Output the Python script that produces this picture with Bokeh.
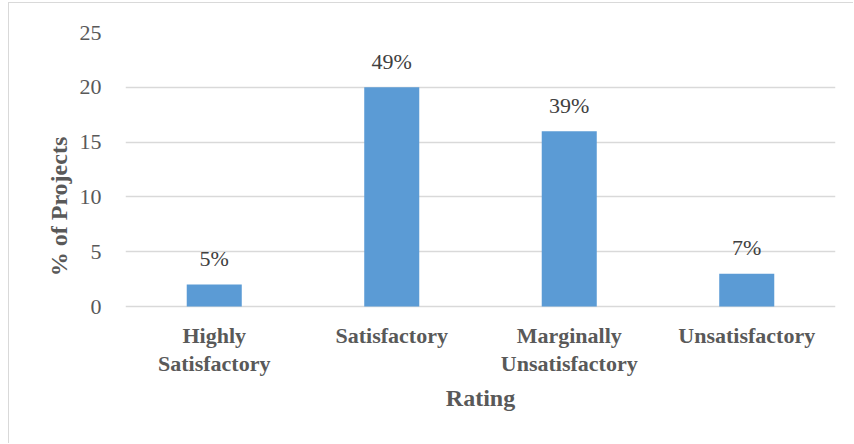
from bokeh.plotting import figure
from bokeh.models import FactorRange, Range1d, ColumnDataSource, Title
from bokeh.core.properties import value
from bokeh.embed import file_html
from bokeh.resources import INLINE

categories = ["Highly Satisfactory", "Satisfactory", "Marginally Unsatisfactory", "Unsatisfactory"]
tick_labels = ["Highly\nSatisfactory", "Satisfactory", "Marginally\nUnsatisfactory", "Unsatisfactory"]
values = [2, 20, 16, 3]
pct_labels = ["5%", "49%", "39%", "7%"]
y_ticks = [0, 5, 10, 15, 20, 25]

FONT = "Liberation Serif"
GRAY = "#595959"

src = ColumnDataSource(dict(cat=categories, val=values, lab=pct_labels,
                            tick=tick_labels, zero=[0] * len(categories)))

# frame extends below zero to make room for the two-line category labels
p = figure(width=845, height=441, x_range=FactorRange(*categories, range_padding=0),
           y_range=Range1d(-6.75, 25), output_backend="svg", toolbar_location=None,
           min_border_left=116, min_border_right=19, min_border_top=29, min_border_bottom=64)
p.styles = {"margin-left": "8px", "margin-top": "2px",
            "border-left": "1px solid #d9d9d9", "border-top": "1px solid #d9d9d9"}
p.outline_line_color = None
p.background_fill_color = "white"
p.border_fill_color = "white"

p.vbar(x="cat", top="val", width=0.31, source=src, color="#5b9bd5", line_color=None)
p.text(x="cat", y="val", text="lab", source=src, text_align="center", text_baseline="middle",
       y_offset=-26, text_font_size="22px", text_color="#404040", text_font=value(FONT))
p.text(x="cat", y="zero", text="tick", source=src, text_align="center", text_baseline="top",
       y_offset=16, text_font_size="22px", text_font=value(FONT), text_font_style="bold",
       text_color=GRAY, text_line_height=1.15)

p.ygrid.grid_line_color = "#d9d9d9"
p.ygrid.grid_line_width = 1.3
p.xgrid.grid_line_color = None
p.xaxis.visible = False

yax = p.yaxis[0]
yax.ticker = y_ticks
yax.axis_line_color = None
yax.major_tick_line_color = None
yax.minor_tick_line_color = None
yax.major_label_text_font = FONT
yax.major_label_text_font_size = "22px"
yax.major_label_text_color = GRAY
yax.major_label_standoff = 18
yax.axis_label = "% of Projects"
yax.axis_label_text_font = FONT
yax.axis_label_text_font_size = "24px"
yax.axis_label_text_font_style = "bold"
yax.axis_label_text_color = GRAY
yax.axis_label_standoff = 5

p.add_layout(Title(text="Rating", align="center", text_font=FONT, text_font_size="24px",
                   text_font_style="bold", text_color=GRAY, standoff=4, offset=0), "below")

open("out.html", "w").write(file_html(p, INLINE))
